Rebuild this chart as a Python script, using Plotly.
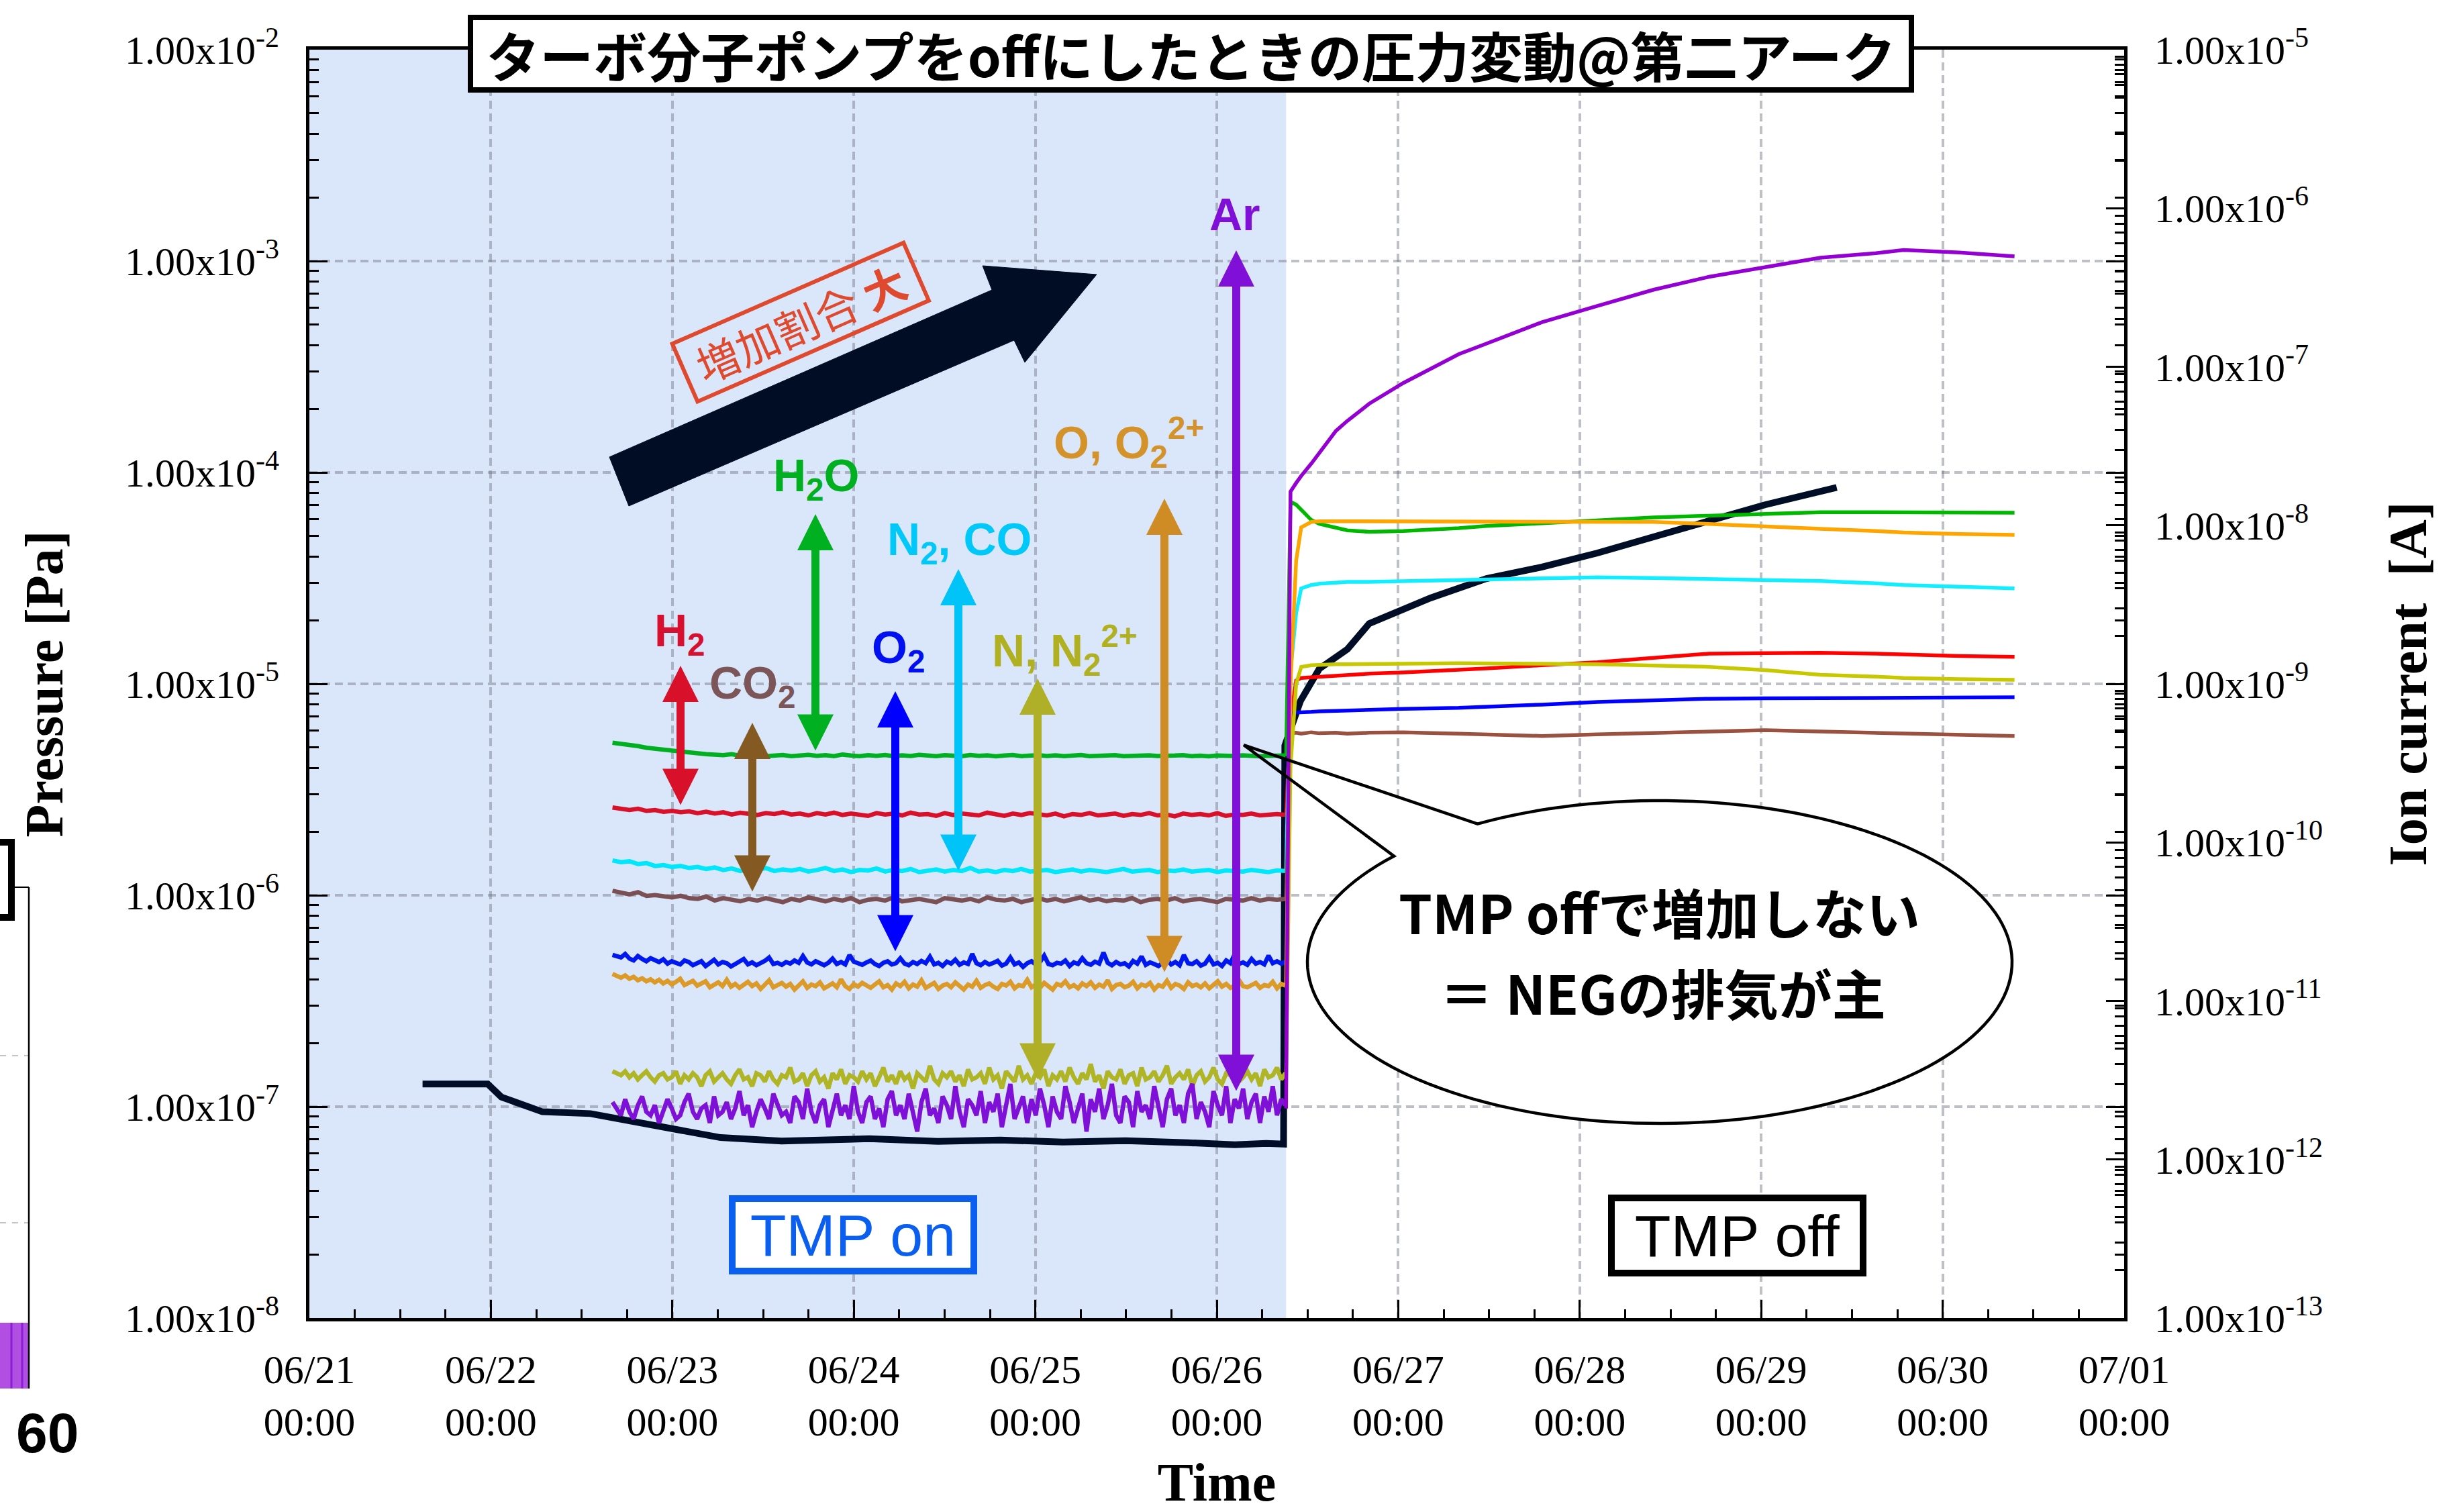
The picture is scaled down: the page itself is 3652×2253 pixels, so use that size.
import numpy as np
import pandas as pd
import plotly.graph_objects as go

W, H = 3652, 2253

# ---------------------------------------------------------------- data
X_START, X_END = "2021-06-21", "2021-07-01"
TMP_OFF = "2021-06-26 09:10"

# Partial ion currents [A] while the TMP is running (fixed logging interval)
PRE_START, PRE_END = "2021-06-22 16:05", "2021-06-26 09:05"

h2o_pre = [
    4.25e-10, 4.20e-10, 4.10e-10, 4.05e-10, 3.95e-10, 3.90e-10, 3.80e-10, 3.75e-10, 3.70e-10, 3.65e-10,
    3.62e-10, 3.60e-10, 3.58e-10, 3.55e-10, 3.60e-10, 3.52e-10, 3.55e-10, 3.58e-10, 3.50e-10, 3.54e-10,
    3.56e-10, 3.50e-10, 3.53e-10, 3.57e-10, 3.52e-10, 3.55e-10, 3.50e-10, 3.58e-10, 3.53e-10, 3.50e-10,
    3.55e-10, 3.52e-10, 3.56e-10, 3.50e-10, 3.54e-10, 3.51e-10, 3.57e-10, 3.52e-10, 3.50e-10, 3.55e-10,
    3.53e-10, 3.50e-10, 3.56e-10, 3.52e-10, 3.54e-10, 3.49e-10, 3.53e-10, 3.56e-10, 3.50e-10, 3.52e-10,
    3.55e-10, 3.51e-10, 3.54e-10, 3.50e-10, 3.52e-10, 3.56e-10, 3.50e-10, 3.53e-10, 3.51e-10, 3.55e-10,
    3.50e-10, 3.52e-10, 3.49e-10, 3.54e-10, 3.51e-10, 3.50e-10, 3.53e-10, 3.55e-10, 3.50e-10, 3.52e-10,
    3.49e-10, 3.53e-10, 3.50e-10, 3.51e-10, 3.54e-10, 3.50e-10, 3.49e-10, 3.52e-10, 3.50e-10, 3.53e-10,
]
h2_pre = [
    1.66e-10, 1.64e-10, 1.60e-10, 1.63e-10, 1.58e-10, 1.60e-10, 1.56e-10, 1.58e-10, 1.55e-10, 1.57e-10,
    1.53e-10, 1.56e-10, 1.52e-10, 1.55e-10, 1.50e-10, 1.54e-10, 1.52e-10, 1.49e-10, 1.53e-10, 1.51e-10,
    1.55e-10, 1.50e-10, 1.52e-10, 1.48e-10, 1.53e-10, 1.50e-10, 1.54e-10, 1.49e-10, 1.52e-10, 1.50e-10,
    1.47e-10, 1.53e-10, 1.50e-10, 1.52e-10, 1.48e-10, 1.54e-10, 1.50e-10, 1.51e-10, 1.47e-10, 1.53e-10,
    1.49e-10, 1.52e-10, 1.50e-10, 1.48e-10, 1.54e-10, 1.50e-10, 1.47e-10, 1.52e-10, 1.49e-10, 1.53e-10,
    1.50e-10, 1.48e-10, 1.52e-10, 1.46e-10, 1.51e-10, 1.49e-10, 1.53e-10, 1.48e-10, 1.50e-10, 1.52e-10,
    1.47e-10, 1.51e-10, 1.49e-10, 1.53e-10, 1.48e-10, 1.50e-10, 1.46e-10, 1.52e-10, 1.49e-10, 1.51e-10,
    1.48e-10, 1.53e-10, 1.47e-10, 1.50e-10, 1.49e-10, 1.52e-10, 1.48e-10, 1.50e-10, 1.51e-10, 1.49e-10,
]
n2co_pre = [
    7.70e-11, 7.50e-11, 7.60e-11, 7.30e-11, 7.40e-11, 7.10e-11, 7.20e-11, 7.00e-11, 7.10e-11, 6.90e-11,
    7.00e-11, 6.80e-11, 6.95e-11, 6.70e-11, 6.85e-11, 6.60e-11, 6.80e-11, 6.70e-11, 6.90e-11, 6.60e-11,
    6.75e-11, 6.65e-11, 6.80e-11, 6.55e-11, 6.70e-11, 6.90e-11, 6.60e-11, 6.75e-11, 6.50e-11, 6.70e-11,
    6.65e-11, 6.85e-11, 6.55e-11, 6.70e-11, 6.60e-11, 6.80e-11, 6.50e-11, 6.65e-11, 6.75e-11, 6.55e-11,
    6.70e-11, 6.60e-11, 6.90e-11, 6.55e-11, 6.65e-11, 6.50e-11, 6.70e-11, 6.60e-11, 6.80e-11, 6.55e-11,
    6.65e-11, 6.70e-11, 6.50e-11, 6.60e-11, 6.75e-11, 6.55e-11, 6.70e-11, 6.60e-11, 6.50e-11, 6.65e-11,
    6.80e-11, 6.55e-11, 6.60e-11, 6.70e-11, 6.50e-11, 6.65e-11, 6.60e-11, 6.75e-11, 6.55e-11, 6.60e-11,
    6.70e-11, 6.50e-11, 6.65e-11, 6.60e-11, 6.55e-11, 6.70e-11, 6.60e-11, 6.50e-11, 6.65e-11, 6.60e-11,
]
co2_pre = [
    4.95e-11, 4.80e-11, 4.70e-11, 4.85e-11, 4.60e-11, 4.65e-11, 4.55e-11, 4.50e-11, 4.60e-11, 4.45e-11,
    4.40e-11, 4.55e-11, 4.30e-11, 4.45e-11, 4.35e-11, 4.25e-11, 4.40e-11, 4.30e-11, 4.45e-11, 4.35e-11,
    4.20e-11, 4.40e-11, 4.30e-11, 4.50e-11, 4.35e-11, 4.25e-11, 4.40e-11, 4.30e-11, 4.45e-11, 4.20e-11,
    4.35e-11, 4.40e-11, 4.30e-11, 4.50e-11, 4.25e-11, 4.35e-11, 4.40e-11, 4.30e-11, 4.20e-11, 4.45e-11,
    4.35e-11, 4.30e-11, 4.40e-11, 4.25e-11, 4.50e-11, 4.35e-11, 4.30e-11, 4.40e-11, 4.20e-11, 4.35e-11,
    4.45e-11, 4.30e-11, 4.40e-11, 4.25e-11, 4.35e-11, 4.50e-11, 4.30e-11, 4.40e-11, 4.25e-11, 4.35e-11,
    4.30e-11, 4.45e-11, 4.20e-11, 4.35e-11, 4.40e-11, 4.30e-11, 4.45e-11, 4.25e-11, 4.35e-11, 4.40e-11,
    4.30e-11, 4.20e-11, 4.40e-11, 4.35e-11, 4.30e-11, 4.45e-11, 4.30e-11, 4.40e-11, 4.35e-11, 4.40e-11,
]
o2_pre = [
    1.95e-11, 1.90e-11, 1.88e-11, 1.98e-11, 1.85e-11, 1.80e-11, 1.92e-11, 1.84e-11, 1.78e-11, 1.86e-11,
    1.80e-11, 1.76e-11, 1.83e-11, 1.72e-11, 1.78e-11, 1.74e-11, 1.70e-11, 1.80e-11, 1.76e-11, 1.68e-11,
    1.72e-11, 1.78e-11, 1.66e-11, 1.74e-11, 1.82e-11, 1.70e-11, 1.76e-11, 1.73e-11, 1.65e-11, 1.71e-11,
    1.77e-11, 1.84e-11, 1.70e-11, 1.75e-11, 1.68e-11, 1.73e-11, 1.79e-11, 1.88e-11, 1.71e-11, 1.74e-11,
    1.69e-11, 1.76e-11, 1.72e-11, 1.80e-11, 1.74e-11, 1.92e-11, 1.75e-11, 1.70e-11, 1.78e-11, 1.73e-11,
    1.68e-11, 1.74e-11, 1.85e-11, 1.71e-11, 1.76e-11, 1.70e-11, 1.95e-11, 1.77e-11, 1.72e-11, 1.69e-11,
    1.75e-11, 1.80e-11, 1.71e-11, 1.66e-11, 1.74e-11, 1.78e-11, 1.70e-11, 1.73e-11, 1.86e-11, 1.72e-11,
    1.68e-11, 1.76e-11, 1.71e-11, 1.79e-11, 1.73e-11, 1.90e-11, 1.70e-11, 1.74e-11, 1.66e-11, 1.77e-11,
    1.72e-11, 1.82e-11, 1.69e-11, 1.75e-11, 1.71e-11, 1.98e-11, 1.73e-11, 1.68e-11, 1.76e-11, 1.70e-11,
    1.74e-11, 1.79e-11, 1.67e-11, 1.72e-11, 1.88e-11, 1.70e-11, 1.75e-11, 1.64e-11, 1.73e-11, 1.78e-11,
    1.70e-11, 1.76e-11, 1.93e-11, 1.71e-11, 1.68e-11, 1.74e-11, 1.72e-11, 1.80e-11, 1.66e-11, 1.75e-11,
    1.71e-11, 1.86e-11, 1.73e-11, 1.69e-11, 1.77e-11, 1.72e-11, 2.02e-11, 1.74e-11, 1.68e-11, 1.76e-11,
    1.70e-11, 1.73e-11, 1.65e-11, 1.79e-11, 1.72e-11, 1.91e-11, 1.69e-11, 1.75e-11, 1.71e-11, 1.66e-11,
    1.74e-11, 1.82e-11, 1.70e-11, 1.76e-11, 1.68e-11, 1.95e-11, 1.73e-11, 1.71e-11, 1.78e-11, 1.67e-11,
    1.72e-11, 1.88e-11, 1.70e-11, 1.74e-11, 1.66e-11, 1.80e-11, 1.73e-11, 1.97e-11, 1.71e-11, 1.75e-11,
    1.69e-11, 1.84e-11, 1.72e-11, 1.76e-11, 1.70e-11, 1.93e-11, 1.73e-11, 1.78e-11, 1.72e-11, 1.76e-11,
]
o_pre = [
    1.48e-11, 1.44e-11, 1.40e-11, 1.45e-11, 1.38e-11, 1.42e-11, 1.35e-11, 1.39e-11, 1.33e-11, 1.37e-11,
    1.31e-11, 1.36e-11, 1.29e-11, 1.34e-11, 1.27e-11, 1.32e-11, 1.38e-11, 1.26e-11, 1.30e-11, 1.34e-11,
    1.25e-11, 1.29e-11, 1.33e-11, 1.22e-11, 1.27e-11, 1.31e-11, 1.24e-11, 1.36e-11, 1.23e-11, 1.28e-11,
    1.21e-11, 1.26e-11, 1.32e-11, 1.24e-11, 1.29e-11, 1.19e-11, 1.27e-11, 1.35e-11, 1.22e-11, 1.25e-11,
    1.30e-11, 1.23e-11, 1.28e-11, 1.18e-11, 1.26e-11, 1.33e-11, 1.21e-11, 1.27e-11, 1.24e-11, 1.31e-11,
    1.20e-11, 1.25e-11, 1.29e-11, 1.22e-11, 1.37e-11, 1.24e-11, 1.19e-11, 1.28e-11, 1.23e-11, 1.30e-11,
    1.25e-11, 1.21e-11, 1.27e-11, 1.33e-11, 1.22e-11, 1.26e-11, 1.18e-11, 1.29e-11, 1.24e-11, 1.32e-11,
    1.20e-11, 1.27e-11, 1.23e-11, 1.35e-11, 1.21e-11, 1.26e-11, 1.30e-11, 1.19e-11, 1.25e-11, 1.28e-11,
    1.22e-11, 1.31e-11, 1.24e-11, 1.18e-11, 1.27e-11, 1.23e-11, 1.34e-11, 1.21e-11, 1.26e-11, 1.29e-11,
    1.23e-11, 1.19e-11, 1.28e-11, 1.25e-11, 1.32e-11, 1.20e-11, 1.26e-11, 1.24e-11, 1.36e-11, 1.22e-11,
    1.27e-11, 1.21e-11, 1.30e-11, 1.24e-11, 1.18e-11, 1.28e-11, 1.25e-11, 1.33e-11, 1.22e-11, 1.26e-11,
    1.20e-11, 1.29e-11, 1.24e-11, 1.31e-11, 1.21e-11, 1.27e-11, 1.23e-11, 1.35e-11, 1.19e-11, 1.26e-11,
    1.28e-11, 1.22e-11, 1.25e-11, 1.32e-11, 1.20e-11, 1.27e-11, 1.24e-11, 1.30e-11, 1.18e-11, 1.26e-11,
    1.23e-11, 1.34e-11, 1.21e-11, 1.28e-11, 1.25e-11, 1.19e-11, 1.31e-11, 1.24e-11, 1.27e-11, 1.22e-11,
    1.29e-11, 1.20e-11, 1.26e-11, 1.33e-11, 1.23e-11, 1.28e-11, 1.21e-11, 1.25e-11, 1.36e-11, 1.24e-11,
    1.22e-11, 1.27e-11, 1.30e-11, 1.21e-11, 1.26e-11, 1.24e-11, 1.32e-11, 1.20e-11, 1.28e-11, 1.25e-11,
]
n_pre = [
    3.6e-12, 3.5e-12, 3.4e-12, 3.6e-12, 3.3e-12, 3.5e-12, 3.2e-12, 3.4e-12, 3.6e-12, 3.3e-12,
    3.1e-12, 3.4e-12, 3.5e-12, 3.2e-12, 3.3e-12, 3.6e-12, 3.0e-12, 3.4e-12, 3.2e-12, 3.5e-12,
    3.3e-12, 2.9e-12, 3.4e-12, 3.6e-12, 3.1e-12, 3.3e-12, 3.5e-12, 3.2e-12, 3.0e-12, 3.4e-12,
    3.7e-12, 3.2e-12, 3.3e-12, 2.9e-12, 3.5e-12, 3.4e-12, 3.1e-12, 3.6e-12, 3.2e-12, 3.0e-12,
    3.4e-12, 3.3e-12, 3.8e-12, 3.1e-12, 3.2e-12, 3.5e-12, 2.9e-12, 3.4e-12, 3.6e-12, 3.1e-12,
    3.3e-12, 2.8e-12, 3.5e-12, 3.2e-12, 3.7e-12, 3.0e-12, 3.4e-12, 3.3e-12, 3.1e-12, 3.6e-12,
    3.2e-12, 3.5e-12, 2.9e-12, 3.3e-12, 3.8e-12, 3.1e-12, 3.4e-12, 3.0e-12, 3.6e-12, 3.2e-12,
    3.4e-12, 2.8e-12, 3.5e-12, 3.3e-12, 3.1e-12, 3.9e-12, 3.2e-12, 3.0e-12, 3.5e-12, 3.3e-12,
    3.6e-12, 3.1e-12, 3.4e-12, 2.9e-12, 3.7e-12, 3.2e-12, 3.3e-12, 3.5e-12, 3.0e-12, 3.8e-12,
    3.2e-12, 3.4e-12, 2.8e-12, 3.6e-12, 3.3e-12, 3.1e-12, 3.9e-12, 3.2e-12, 3.4e-12, 3.0e-12,
    3.5e-12, 3.3e-12, 3.7e-12, 2.9e-12, 3.4e-12, 3.2e-12, 3.6e-12, 3.1e-12, 3.8e-12, 3.3e-12,
    3.0e-12, 3.5e-12, 3.2e-12, 4.0e-12, 3.1e-12, 3.4e-12, 2.8e-12, 3.6e-12, 3.3e-12, 3.2e-12,
    3.7e-12, 3.0e-12, 3.4e-12, 3.5e-12, 2.9e-12, 3.8e-12, 3.2e-12, 3.3e-12, 3.6e-12, 3.1e-12,
    3.4e-12, 3.9e-12, 3.0e-12, 3.3e-12, 3.5e-12, 3.2e-12, 3.7e-12, 2.9e-12, 3.4e-12, 3.6e-12,
    3.1e-12, 3.3e-12, 3.8e-12, 3.2e-12, 3.0e-12, 3.5e-12, 3.4e-12, 4.0e-12, 3.1e-12, 3.3e-12,
    3.6e-12, 3.2e-12, 3.5e-12, 2.9e-12, 3.7e-12, 3.3e-12, 3.4e-12, 3.8e-12, 3.2e-12, 3.5e-12,
]
ar_pre = [
    2.3e-12, 2.1e-12, 1.9e-12, 2.4e-12, 2.0e-12, 1.8e-12, 2.2e-12, 2.5e-12, 2.0e-12, 1.9e-12,
    2.2e-12, 1.7e-12, 2.0e-12, 2.4e-12, 2.1e-12, 1.8e-12, 1.9e-12, 2.3e-12, 2.6e-12, 2.0e-12,
    1.8e-12, 2.1e-12, 2.2e-12, 1.7e-12, 2.5e-12, 1.9e-12, 2.0e-12, 2.3e-12, 1.8e-12, 2.1e-12,
    2.7e-12, 1.9e-12, 2.2e-12, 1.6e-12, 2.0e-12, 2.4e-12, 2.1e-12, 1.8e-12, 2.6e-12, 2.2e-12,
    1.9e-12, 2.0e-12, 1.7e-12, 2.5e-12, 2.3e-12, 1.8e-12, 2.8e-12, 2.0e-12, 1.7e-12, 2.2e-12,
    2.4e-12, 1.6e-12, 2.1e-12, 2.6e-12, 1.9e-12, 2.2e-12, 1.8e-12, 2.9e-12, 2.0e-12, 1.7e-12,
    2.3e-12, 2.5e-12, 1.8e-12, 2.1e-12, 1.6e-12, 2.4e-12, 2.7e-12, 1.9e-12, 2.2e-12, 1.8e-12,
    2.6e-12, 2.0e-12, 1.5e-12, 2.3e-12, 2.8e-12, 1.9e-12, 2.1e-12, 1.7e-12, 2.5e-12, 2.2e-12,
    1.8e-12, 2.9e-12, 2.0e-12, 1.6e-12, 2.4e-12, 2.2e-12, 1.9e-12, 2.7e-12, 1.7e-12, 2.3e-12,
    2.0e-12, 2.6e-12, 1.6e-12, 2.2e-12, 3.0e-12, 1.8e-12, 2.1e-12, 2.5e-12, 1.7e-12, 2.4e-12,
    1.9e-12, 2.8e-12, 2.2e-12, 1.6e-12, 2.5e-12, 2.0e-12, 1.8e-12, 2.9e-12, 2.3e-12, 1.7e-12,
    2.1e-12, 2.6e-12, 1.5e-12, 2.4e-12, 2.0e-12, 2.8e-12, 1.8e-12, 2.2e-12, 3.0e-12, 1.9e-12,
    1.7e-12, 2.5e-12, 2.3e-12, 1.6e-12, 2.7e-12, 2.0e-12, 2.2e-12, 1.8e-12, 2.9e-12, 2.1e-12,
    1.6e-12, 2.4e-12, 2.8e-12, 1.9e-12, 2.2e-12, 1.7e-12, 2.6e-12, 3.0e-12, 1.8e-12, 2.3e-12,
    2.0e-12, 1.6e-12, 2.7e-12, 2.2e-12, 1.9e-12, 2.9e-12, 1.7e-12, 2.4e-12, 2.1e-12, 2.8e-12,
    1.8e-12, 2.3e-12, 2.6e-12, 1.7e-12, 2.5e-12, 2.0e-12, 2.9e-12, 1.9e-12, 2.4e-12, 2.2e-12,
]

# Partial ion currents [A] after the TMP is switched off
post_time = [
    "2021-06-26 09:10", "2021-06-26 09:45", "2021-06-26 10:30", "2021-06-26 11:10",
    "2021-06-26 12:30", "2021-06-26 13:35", "2021-06-26 15:45", "2021-06-26 17:15",
    "2021-06-26 20:10", "2021-06-27 00:40", "2021-06-27 08:00", "2021-06-27 11:40",
    "2021-06-27 19:00", "2021-06-28 02:20", "2021-06-28 09:45", "2021-06-28 17:05",
    "2021-06-29 00:30", "2021-06-29 07:50", "2021-06-29 15:10", "2021-06-29 18:50",
    "2021-06-30 02:10", "2021-06-30 09:30",
]
h2o_post = [3.5e-10, 1.41e-8, 1.35e-8, 1.25e-8, 1.08e-8, 1.02e-8, 9.7e-9, 9.3e-9, 9.1e-9, 9.2e-9, 9.6e-9,
            9.9e-9, 1.03e-8, 1.08e-8, 1.12e-8, 1.15e-8, 1.18e-8, 1.21e-8, 1.21e-8, 1.21e-8, 1.21e-8, 1.2e-8]
o_post = [1.25e-11, 1.0e-9, 6.0e-9, 9.7e-9, 1.05e-8, 1.06e-8, 1.06e-8, 1.06e-8, 1.06e-8, 1.06e-8, 1.06e-8,
          1.06e-8, 1.06e-8, 1.06e-8, 1.05e-8, 1.02e-8, 9.8e-9, 9.5e-9, 9.2e-9, 9.0e-9, 8.8e-9, 8.7e-9]
n2co_post = [6.6e-11, 1.2e-9, 2.8e-9, 4.0e-9, 4.2e-9, 4.28e-9, 4.35e-9, 4.4e-9, 4.4e-9, 4.45e-9, 4.5e-9,
             4.55e-9, 4.6e-9, 4.7e-9, 4.65e-9, 4.6e-9, 4.53e-9, 4.45e-9, 4.3e-9, 4.2e-9, 4.1e-9, 4.0e-9]
h2_post = [1.5e-10, 6.0e-10, 1.05e-9, 1.09e-9, 1.1e-9, 1.11e-9, 1.13e-9, 1.14e-9, 1.16e-9, 1.18e-9, 1.22e-9,
           1.25e-9, 1.31e-9, 1.37e-9, 1.46e-9, 1.55e-9, 1.56e-9, 1.57e-9, 1.55e-9, 1.53e-9, 1.5e-9, 1.48e-9]
n_post = [3.3e-12, 3.0e-10, 1.0e-9, 1.28e-9, 1.31e-9, 1.32e-9, 1.33e-9, 1.33e-9, 1.34e-9, 1.34e-9, 1.35e-9,
          1.35e-9, 1.34e-9, 1.33e-9, 1.31e-9, 1.28e-9, 1.22e-9, 1.14e-9, 1.11e-9, 1.09e-9, 1.07e-9, 1.06e-9]
o2_post = [1.72e-11, 6.5e-10, 6.6e-10, 6.6e-10, 6.65e-10, 6.7e-10, 6.75e-10, 6.8e-10, 6.85e-10, 6.95e-10, 7.05e-10,
           7.14e-10, 7.4e-10, 7.69e-10, 7.9e-10, 8.06e-10, 8.1e-10, 8.15e-10, 8.2e-10, 8.2e-10, 8.22e-10, 8.22e-10]
co2_post = [4.35e-11, 4.9e-10, 4.92e-10, 4.85e-10, 4.95e-10, 4.88e-10, 4.92e-10, 4.85e-10, 4.92e-10, 4.95e-10, 4.85e-10,
            4.8e-10, 4.69e-10, 4.8e-10, 4.92e-10, 5.0e-10, 5.1e-10, 5.0e-10, 4.92e-10, 4.85e-10, 4.75e-10, 4.69e-10]
ar_post = [2.1e-12, 1.63e-8, 1.85e-8, 2.05e-8, 2.45e-8, 2.85e-8, 3.94e-8, 4.55e-8, 5.85e-8, 7.9e-8, 1.2e-7,
           1.4e-7, 1.91e-7, 2.42e-7, 3.06e-7, 3.69e-7, 4.24e-7, 4.87e-7, 5.2e-7, 5.45e-7, 5.25e-7, 4.97e-7]

# Total pressure [Pa]
p_time = [
    "2021-06-21 14:58", "2021-06-21 23:35", "2021-06-22 01:23", "2021-06-22 04:33", "2021-06-22 06:49",
    "2021-06-22 13:10", "2021-06-22 17:41", "2021-06-23 00:56", "2021-06-23 06:23", "2021-06-23 14:27",
    "2021-06-23 18:56", "2021-06-24 02:01", "2021-06-24 11:07", "2021-06-24 19:23", "2021-06-25 03:39",
    "2021-06-25 11:56", "2021-06-25 20:12", "2021-06-26 02:24", "2021-06-26 06:32", "2021-06-26 08:50",
    "2021-06-26 09:00", "2021-06-26 09:53", "2021-06-26 11:04", "2021-06-26 13:34", "2021-06-26 17:17",
    "2021-06-26 20:10", "2021-06-27 04:17", "2021-06-27 11:41", "2021-06-27 19:01", "2021-06-28 02:21",
    "2021-06-28 09:45", "2021-06-28 17:02", "2021-06-29 00:29", "2021-06-29 09:59",
]
p_total = [
    1.28e-7, 1.28e-7, 1.11e-7, 1.02e-7, 9.46e-8, 9.27e-8, 8.69e-8, 7.69e-8, 7.14e-8, 6.88e-8,
    6.95e-8, 7.05e-8, 6.85e-8, 6.95e-8, 6.80e-8, 6.90e-8, 6.75e-8, 6.60e-8, 6.70e-8, 6.65e-8,
    5.1e-6, 6.3e-6, 8.3e-6, 1.18e-5, 1.46e-5, 1.93e-5, 2.55e-5, 3.15e-5, 3.57e-5, 4.16e-5,
    4.95e-5, 5.89e-5, 7.03e-5, 8.49e-5,
]

p_exponents = [-8, -7, -6, -5, -4, -3, -2]
i_exponents = [-13, -12, -11, -10, -9, -8, -7, -6, -5]

# ------------------------------------------------------------- styling
SERIF = "Liberation Serif"
SANS = "Liberation Sans"
JP = "Noto Sans CJK JP"

series = [  # pre values, post values, colour while TMP on, colour after TMP off
    (h2o_pre, h2o_post, "#00b020", "#00b800"),
    (h2_pre, h2_post, "#d8102a", "#ff0000"),
    (n2co_pre, n2co_post, "#00e6fa", "#10eeff"),
    (co2_pre, co2_post, "#7a5055", "#9b5140"),
    (o2_pre, o2_post, "#0018f0", "#0000ff"),
    (o_pre, o_post, "#dc9a28", "#ffa500"),
    (n_pre, n_post, "#b0b525", "#c8c800"),
    (ar_pre, ar_post, "#7e10d8", "#9400d3"),
]

fig = go.Figure()
# total pressure on the left axis
fig.add_trace(go.Scatter(x=pd.to_datetime(p_time), y=p_total, mode="lines", yaxis="y",
                         line=dict(color="#000d26", width=10), hoverinfo="skip"))
# partial ion currents on the right axis
for pre, post, c_on, c_off in series:
    t = pd.date_range(PRE_START, PRE_END, periods=len(pre))
    fig.add_trace(go.Scatter(x=t, y=pre, mode="lines", yaxis="y2",
                             line=dict(color=c_on, width=6.5), hoverinfo="skip"))
for pre, post, c_on, c_off in series:
    fig.add_trace(go.Scatter(x=pd.to_datetime(post_time), y=post, mode="lines", yaxis="y2",
                             line=dict(color=c_off, width=5.5), hoverinfo="skip"))
# empty traces that carry the minor-tick axes
for ax in ("y3", "y4"):
    fig.add_trace(go.Scatter(x=[], y=[], yaxis=ax, mode="lines", hoverinfo="skip"))

# plot area in pixels
PL, PR, PT, PB = 461, 3165, 74, 1964
def px(x, y):
    return x / W, 1 - y / H

tickfont = dict(family=SERIF, size=60, color="black")
titlefont = dict(family=SERIF, size=80, color="black")
grid = dict(showgrid=True, gridcolor="rgba(110,115,130,0.45)", gridwidth=3.5, griddash="12px,7px")
major = dict(ticks="inside", ticklen=27, tickwidth=3, tickcolor="black", automargin=False, zeroline=False)

p_minor = [m * 10.0 ** e for e in p_exponents[:-1] for m in range(2, 10)]
i_minor = [m * 10.0 ** e for e in i_exponents[:-1] for m in range(2, 10)]
minor_ax = dict(type="log", overlaying="y", anchor="x", tickmode="array", ticks="inside", ticklen=14,
                tickwidth=2.5, tickcolor="black", showticklabels=False, showgrid=False, showline=False,
                zeroline=False, automargin=False)

fig.update_layout(
    width=W, height=H, margin=dict(l=0, r=0, t=0, b=0, autoexpand=False),
    paper_bgcolor="white", plot_bgcolor="white", showlegend=False,
    xaxis=dict(
        domain=[PL / W, PR / W], type="date", range=[X_START, X_END],
        tick0=X_START, dtick=86400000, tickformat="%m/%d<br>%H:%M",
        minor=dict(dtick=21600000, ticks="inside", ticklen=13, tickwidth=2.5, tickcolor="black", showgrid=False),
        showline=True, linewidth=5, linecolor="black", mirror=True,
        tickfont=tickfont, ticklabelstandoff=20,
        title=dict(text="<b>Time</b>", font=titlefont, standoff=40),
        **major, **grid,
    ),
    yaxis=dict(
        domain=[1 - PB / H, 1 - PT / H], type="log", range=[-8, -2],
        tickmode="array", tickvals=[10.0 ** e for e in p_exponents],
        ticktext=[f"1.00x10<sup>{e}</sup>" for e in p_exponents],
        showline=True, linewidth=5, linecolor="black", mirror="ticks",
        tickfont=tickfont, ticklabelstandoff=28,
        title=dict(text="<b>Pressure [Pa]</b>", font=titlefont, standoff=68),
        **major, **grid,
    ),
    yaxis2=dict(
        type="log", range=[-13, -5], overlaying="y", side="right", anchor="x",
        tickmode="array", tickvals=[10.0 ** e for e in i_exponents],
        ticktext=[f"1.00x10<sup>{e}</sup>" for e in i_exponents],
        showline=True, linewidth=5, linecolor="black",
        tickfont=tickfont, ticklabelstandoff=28,
        title=dict(text="<b>Ion current\u00a0 [A]</b>", font=titlefont, standoff=100),
        showgrid=False, **major,
    ),
    yaxis3=dict(range=[-8, -2], side="left", tickvals=p_minor, mirror="ticks", **minor_ax),
    yaxis4=dict(range=[-13, -5], side="right", tickvals=i_minor, **minor_ax),
)

shapes = []

# TMP-on period, underneath the grid
shapes.append(dict(type="rect", xref="x", yref="paper", x0=X_START, x1=TMP_OFF,
                   y0=1 - PB / H, y1=1 - PT / H, layer="below",
                   fillcolor="#dae6fa", line=dict(width=0)))

# speech bubble: white body (kept clear of the switch-off jump), then the outline
cx, cy, rx, ry = 2473, 1433.5, 525, 240.5
tip = (1853, 1110)
b1, b2 = (2202, 1228), (2078, 1276)
t1 = np.arctan2((b1[1] - cy) / ry, (b1[0] - cx) / rx)
t2 = np.arctan2((b2[1] - cy) / ry, (b2[0] - cx) / rx) + 2 * np.pi
ring = [(cx + rx * np.cos(t), cy + ry * np.sin(t)) for t in np.linspace(t1, t2, 160)]
XC = 1928
cut1 = (XC, tip[1] + (XC - tip[0]) / (b1[0] - tip[0]) * (b1[1] - tip[1]))
cut2 = (XC, tip[1] + (XC - tip[0]) / (b2[0] - tip[0]) * (b2[1] - tip[1]))

def paper_path(points, close=True):
    s = "M " + " L ".join("{:.5f},{:.5f}".format(*px(x, y)) for x, y in points)
    return s + (" Z" if close else "")

shapes.append(dict(type="path", xref="paper", yref="paper", layer="above",
                   path=paper_path([cut1] + ring + [cut2]), fillcolor="white", line=dict(width=0)))
shapes.append(dict(type="path", xref="paper", yref="paper", layer="above",
                   path=paper_path([tip] + ring + [tip], close=False),
                   fillcolor="rgba(0,0,0,0)", line=dict(color="black", width=4.5)))

# big trend arrow
arrow_pts = [(937, 754), (908, 681), (1478, 432), (1464, 396), (1634, 409), (1527, 540), (1511, 507)]
shapes.append(dict(type="path", xref="paper", yref="paper", path=paper_path(arrow_pts), layer="above",
                   fillcolor="#010d24", line=dict(color="#010d24", width=1)))

# fragment of the neighbouring panel at the left edge
def prect(x0, y0, x1, y1, **kw):
    a, b = px(x0, y0)
    c, d = px(x1, y1)
    return dict(type="rect", xref="paper", yref="paper", x0=a, y0=d, x1=c, y1=b, layer="above", **kw)

def pline(x0, y0, x1, y1, **kw):
    a, b = px(x0, y0)
    c, d = px(x1, y1)
    return dict(type="line", xref="paper", yref="paper", x0=a, y0=b, x1=c, y1=d, layer="above", **kw)

shapes.append(pline(0, 1573, 43, 1573, line=dict(color="#c4c4c4", width=2, dash="dash")))
shapes.append(pline(0, 1822, 43, 1822, line=dict(color="#c4c4c4", width=2, dash="dash")))
shapes.append(prect(-5, 1971, 43, 2069, fillcolor="#b24fe3", line=dict(width=0)))
shapes.append(pline(17, 1971, 17, 2069, line=dict(color="#8a1ed6", width=3)))
shapes.append(pline(33, 1971, 33, 2069, line=dict(color="#8a1ed6", width=3)))
shapes.append(pline(0, 1322, 43, 1322, line=dict(color="black", width=2)))
shapes.append(pline(43, 1322, 43, 2069, line=dict(color="black", width=2.5)))
shapes.append(prect(-30, 1255, 17, 1367, fillcolor="white", line=dict(color="black", width=10)))

fig.update_layout(shapes=shapes)

ann = []

def note(x, y, text, **kw):
    a, b = px(x, y)
    d = dict(x=a, y=b, xref="paper", yref="paper", text=text, showarrow=False,
             xanchor="center", yanchor="middle")
    d.update(kw)
    ann.append(d)

# title box
note(1774.5, 80, "<b>ターボ分子ポンプをoffにしたときの圧力変動@第二アーク</b>",
     font=dict(family=JP, size=80, color="black"), bgcolor="white",
     bordercolor="black", borderwidth=8, borderpad=0, width=2139, height=100)

# stamp
note(1193, 480.5, "増加割合 <b>大</b>", font=dict(family=JP, size=64, color="#df4a2f"),
     bordercolor="#df4a2f", borderwidth=6, borderpad=0, width=370, height=88, textangle=-23.6)

# double-headed species arrows: x, top, bottom (pixels)
species_arrows = [
    (1014, 992, 1201, "#d8102a"),
    (1121, 1077, 1330, "#855a22"),
    (1215, 766, 1120, "#00b020"),
    (1334, 1030, 1419, "#0000ff"),
    (1428, 848, 1299, "#00c4f8"),
    (1546, 1011, 1610, "#b0b028"),
    (1735, 743, 1450, "#d08c24"),
    (1842, 373, 1627, "#8010d8"),
]
for x, yt, yb, c in species_arrows:
    a, b = px(x, yt)
    ann.append(dict(x=a, y=b, xref="paper", yref="paper", ax=0, ay=yb - yt, axref="pixel", ayref="pixel",
                    text="", showarrow=True, arrowhead=2, startarrowhead=2, arrowside="end+start",
                    arrowsize=0.9, startarrowsize=0.9, arrowwidth=12, arrowcolor=c))

labfont = lambda c: dict(family=SANS, size=68, color=c)
note(1013, 944, "<b>H<sub>2</sub></b>", font=labfont("#d81030"))
note(1121, 1022, "<b>CO<sub>2</sub></b>", font=labfont("#7b5558"))
note(1216, 713, "<b>H<sub>2</sub>O</b>", font=labfont("#00b020"))
note(1338, 969, "<b>O<sub>2</sub></b>", font=labfont("#0010f0"))
note(1429, 808, "<b>N<sub>2</sub>, CO</b>", font=labfont("#00c8f8"))
note(1586, 969, "<b>N, N<sub>2</sub><sup>2+</sup></b>", font=labfont("#b0b020"))
note(1682, 659, "<b>O, O<sub>2</sub><sup>2+</sup></b>", font=labfont("#d4922a"))
note(1840, 319, "<b>Ar</b>", font=labfont("#8010d8"))

# bubble text
note(2472, 1357, "<b>TMP offで増加しない</b>", font=dict(family=JP, size=80, color="black"))
note(2477, 1477, "<b>＝ NEGの排気が主</b>", font=dict(family=JP, size=80, color="black"))

# period boxes
note(1271, 1840, "TMP on", font=dict(family=SANS, size=88, color="#0a5ef0"), bgcolor="white",
     bordercolor="#0a5ef0", borderwidth=10, borderpad=0, width=350, height=98)
note(2588, 1841, "TMP off", font=dict(family=SANS, size=88, color="black"), bgcolor="white",
     bordercolor="black", borderwidth=10, borderpad=0, width=365, height=102)

# neighbouring panel tick label
note(70, 2135, "<b>60</b>", font=dict(family=SANS, size=84, color="black"))

fig.update_layout(annotations=ann)
fig.write_html("out.html")
